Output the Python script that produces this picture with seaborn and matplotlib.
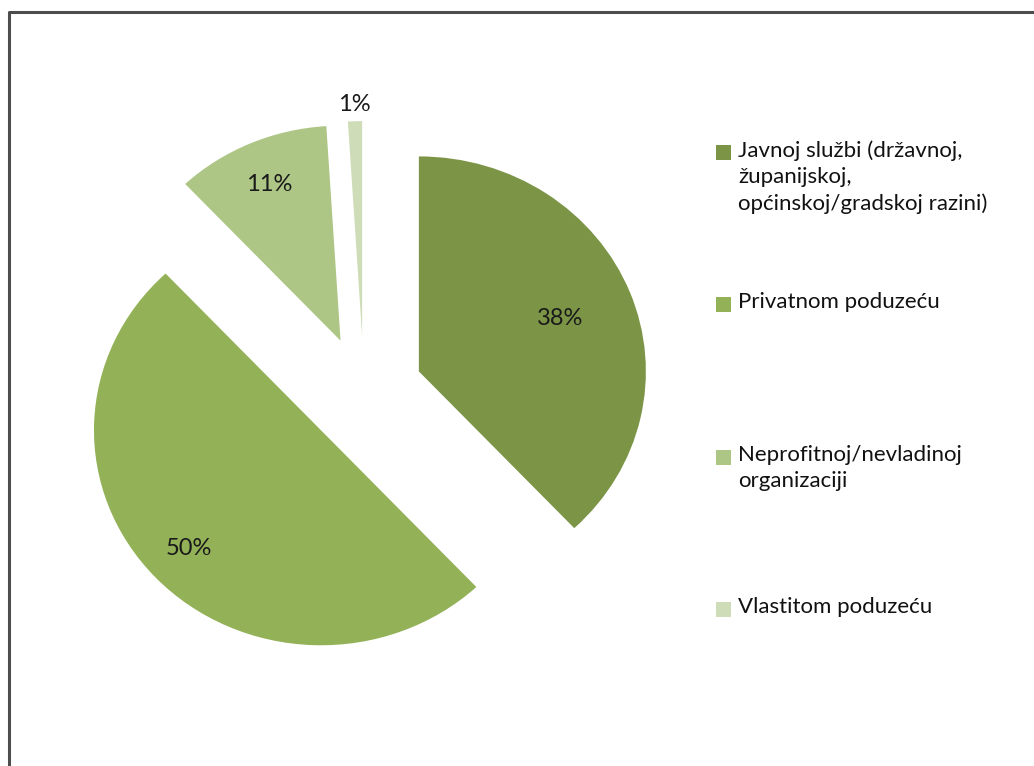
import numpy as np
import matplotlib.pyplot as plt
from matplotlib.lines import Line2D
from matplotlib.patches import Rectangle
import seaborn as sns

# podaci s grafikona
kategorije = [
    'Javnoj službi (državnoj,\nžupanijskoj,\nopćinskoj/gradskoj razini)',
    'Privatnom poduzeću',
    'Neprofitnoj/nevladinoj\norganizaciji',
    'Vlastitom poduzeću',
]
postotci = [38, 50, 11, 1]
oznake = ['38%', '50%', '11%', '1%']
boje = ['#7B9446', '#93B157', '#ADC685', '#CEDDB7']

sns.set_theme(style='white')
plt.rcParams['font.family'] = ['Lato', 'DejaVu Sans']

W, H = 1034, 766
fig = plt.figure(figsize=(W / 100, H / 100), dpi=100)
ax = fig.add_axes([0, 0, 1, 1])

wedges, _ = ax.pie(
    postotci,
    colors=sns.color_palette(boje),
    startangle=90,
    counterclock=False,
    explode=[0.26] * 4,
    radius=1,
    center=(0, 0),
    wedgeprops=dict(linewidth=0),
)

# elipsa kao u originalu (malo razvučeno vodoravno)
cx, cy = 364, 392     # središte u pikselima (od vrha)
rx, ry = 227, 215
ax.set_aspect('auto')
ax.set_xlim(-cx / rx, (W - cx) / rx)
ax.set_ylim(-(H - cy) / ry, cy / ry)
ax.axis('off')

# postotci na isječcima
udaljenosti = [0.67, 0.80, 0.79, 1.08]
for w, txt, d in zip(wedges, oznake, udaljenosti):
    kut = np.deg2rad((w.theta1 + w.theta2) / 2)
    x = w.center[0] + d * w.r * np.cos(kut)
    y = w.center[1] + d * w.r * np.sin(kut)
    ax.text(x, y, txt, ha='center', va='center', fontsize=17, color='#1a1a1a')

# legenda
redovi = [153, 305, 458, 610]
for w, naziv, yr in zip(wedges, kategorije, redovi):
    fig.patches.append(Rectangle((716 / W, 1 - (yr + 7) / H), 15 / W, 15 / H,
                                 transform=fig.transFigure,
                                 facecolor=w.get_facecolor(), edgecolor='none'))
    fig.text(738 / W, 1 - (yr - 13) / H, naziv, ha='left', va='top',
             fontsize=16, color='#111111', linespacing=1.4)

# okvir
fig.add_artist(Line2D([9 / W, 9 / W, 1.0], [0.0, 1 - 12 / H, 1 - 12 / H],
                      transform=fig.transFigure, color='#4d4d4d', linewidth=2.2))

plt.savefig('out.png', dpi=100)
